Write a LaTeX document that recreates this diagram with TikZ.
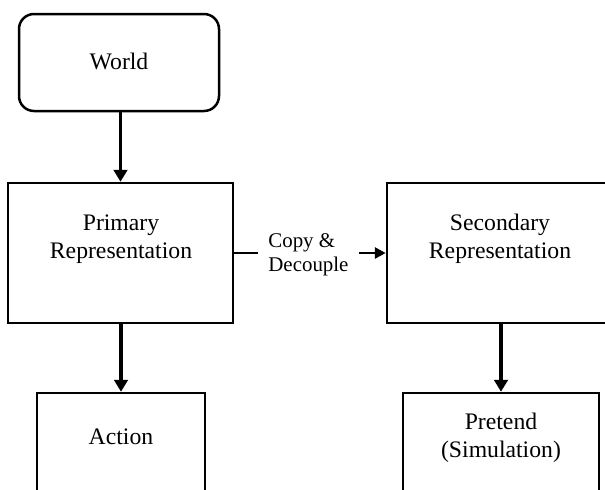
\documentclass[tikz,border=0pt]{standalone}
\usepackage{fontspec}
\setmainfont{Liberation Serif}
\usetikzlibrary{arrows.meta}

\begin{document}
\begin{tikzpicture}[x=0.5pt,y=-0.5pt,
		box/.style={draw, line width=1.25pt, inner sep=0pt, minimum height=70pt},
		txt/.style={align=center, font=\fontsize{11.85}{14}\selectfont},
		arr/.style={line width=1.7pt, -{Triangle[length=6pt,width=6.8pt]}},
		harr/.style={line width=1.4pt, -{Triangle[length=5.5pt,width=5.5pt]}}]
	\useasboundingbox (0,0) rectangle (605,489);
	\clip (0,0) rectangle (605,489);
	% boxes
	\node[box, rounded corners=7.5pt, minimum width=100pt, minimum height=48.5pt] (world) at (119,62.5) {};
	\node[box, minimum width=112.5pt] (prim) at (120.5,253) {};
	\node[box, minimum width=113pt] (sec) at (500,253) {};
	\node[box, minimum width=84pt] (act) at (121,463) {};
	\node[box, minimum width=98pt] (pret) at (501,463) {};
	% texts
	\node[txt] (worldtxt) at (119,61) {World};
	\node[txt] (primtxt) at (121,239) {Primary\\Representation};
	\node[txt] (sectxt) at (500,239) {Secondary\\Representation};
	\node[txt] (acttxt) at (121,437) {Action};
	\node[txt] (prettxt) at (501,438) {Pretend\\(Simulation)};
	\node[align=left, anchor=west, inner xsep=5pt, font=\fontsize{10.45}{12}\selectfont] (cd) at (258,255) {Copy \&\\Decouple};
	% arrows
	\draw[arr] (world.south -| prim) -- (prim.north);
	\draw[arr] (prim.south -| act) -- (act.north);
	\draw[arr] (sec.south -| pret) -- (pret.north);
	\draw[line width=1.4pt] (prim.east) -- (prim.east -| cd.west);
	\draw[harr] (sec.west -| cd.east) -- (sec.west);
\end{tikzpicture}
\end{document}
